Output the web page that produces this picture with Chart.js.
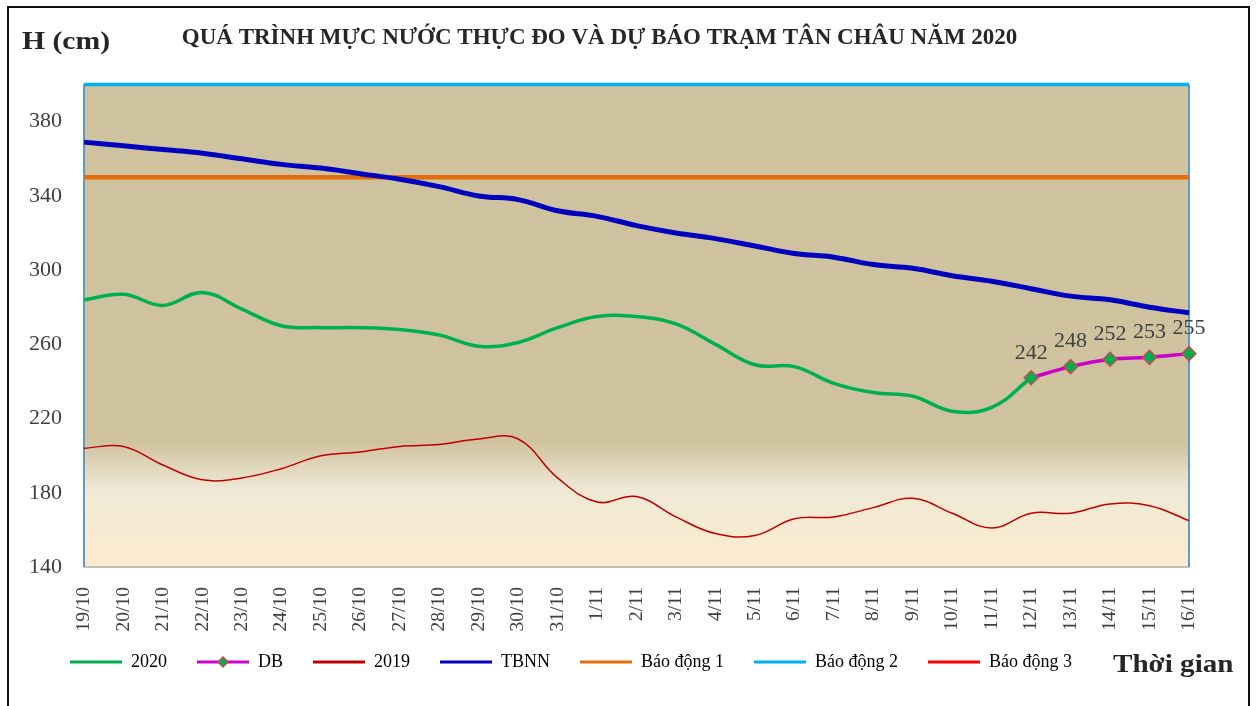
<!DOCTYPE html>
<html>
<head>
<meta charset="utf-8">
<script src="https://cdn.jsdelivr.net/npm/chart.js@4"></script>
<style>
  html, body { margin: 0; padding: 0; background: #fff; }
  canvas { display: block; }
</style>
</head>
<body>
<canvas id="waterChart" width="1259" height="706"></canvas>
<script>
const labels = ['19/10', '20/10', '21/10', '22/10', '23/10', '24/10', '25/10', '26/10', '27/10', '28/10',
  '29/10', '30/10', '31/10', '1/11', '2/11', '3/11', '4/11', '5/11', '6/11', '7/11', '8/11', '9/11',
  '10/11', '11/11', '12/11', '13/11', '14/11', '15/11', '16/11'];

const h2020 = [284, 287, 281, 288, 279, 270, 269, 269, 268, 265, 259, 261, 269, 275, 275, 271, 260, 249, 248,
  239, 234, 232, 224, 226, 242, null, null, null, null];
const dbForecast = [null, null, null, null, null, null, null, null, null, null, null, null, null, null, null,
  null, null, null, null, null, null, null, null, null, 242, 248, 252, 253, 255];
const h2019 = [204, 205, 195, 187, 188, 193, 200, 202, 205, 206, 209, 209, 188, 175, 178, 167, 158, 157, 166,
  167, 172, 177, 169, 161, 169, 169, 174, 173, 165];
const tbnn = [369, 367, 365, 363, 360, 357, 355, 352, 349, 345, 340, 338, 332, 329, 324, 320, 317, 313, 309,
  307, 303, 301, 297, 294, 290, 286, 284, 280, 277];
const alarm1 = [350, 350, 350, 350, 350, 350, 350, 350, 350, 350, 350, 350, 350, 350, 350, 350, 350, 350, 350,
  350, 350, 350, 350, 350, 350, 350, 350, 350, 350];
const alarm2 = [400, 400, 400, 400, 400, 400, 400, 400, 400, 400, 400, 400, 400, 400, 400, 400, 400, 400, 400,
  400, 400, 400, 400, 400, 400, 400, 400, 400, 400];
const alarm3 = [450, 450, 450, 450, 450, 450, 450, 450, 450, 450, 450, 450, 450, 450, 450, 450, 450, 450, 450,
  450, 450, 450, 450, 450, 450, 450, 450, 450, 450];
const yTicks = [140, 180, 220, 260, 300, 340, 380];

const serif = "'Liberation Serif', 'Times New Roman', serif";

function stretchedText(ctx, text, x, y, sx) {
  ctx.save();
  ctx.translate(x, y);
  ctx.scale(sx, 1);
  ctx.fillText(text, 0, 0);
  ctx.restore();
}

// plot background + frame + extra texts
const decor = {
  id: 'decor',
  afterLayout(chart) {
    // push the legend row to where the original sits
    const lg = chart.legend;
    lg.left = 40;
    lg.top = 623;
  },
  beforeDraw(chart) {
    const { ctx, chartArea: a } = chart;
    ctx.save();
    const g = ctx.createLinearGradient(0, a.top, 0, a.bottom);
    g.addColorStop(0, '#cfc29f');
    g.addColorStop(0.74, '#cfc29f');
    g.addColorStop(0.84, '#efe9d6');
    g.addColorStop(1, '#fcecce');
    ctx.fillStyle = g;
    ctx.fillRect(a.left, a.top, a.width, a.height);
    ctx.restore();
  },
  beforeDatasetsDraw(chart) {
    const { ctx, chartArea: a } = chart;
    ctx.save();
    ctx.lineWidth = 2;
    ctx.strokeStyle = '#bfbfbf';
    ctx.beginPath();
    ctx.moveTo(a.left, a.bottom); ctx.lineTo(a.right, a.bottom);
    ctx.stroke();
    ctx.strokeStyle = '#5b9bd5';
    ctx.beginPath();
    ctx.moveTo(a.left, a.top); ctx.lineTo(a.left, a.bottom);
    ctx.moveTo(a.right, a.top); ctx.lineTo(a.right, a.bottom);
    ctx.stroke();
    ctx.restore();
  },
  afterDatasetsDraw(chart) {
    const { ctx } = chart;
    const meta = chart.getDatasetMeta(1);
    ctx.save();
    ctx.font = '22px ' + serif;
    ctx.fillStyle = '#404040';
    ctx.textAlign = 'center';
    ctx.textBaseline = 'bottom';
    meta.data.forEach((pt, i) => {
      const v = dbForecast[i];
      if (v == null) return;
      ctx.fillText(String(v), pt.x, pt.y - 14);
    });
    ctx.restore();
  },
  afterDraw(chart) {
    const { ctx } = chart;
    ctx.save();
    ctx.strokeStyle = '#111';
    ctx.lineWidth = 2;
    ctx.beginPath();
    ctx.moveTo(8, 720); ctx.lineTo(8, 7); ctx.lineTo(1249, 7); ctx.lineTo(1249, 720);
    ctx.stroke();

    ctx.fillStyle = '#262626';
    ctx.textBaseline = 'alphabetic';
    ctx.font = 'bold 26px ' + serif;
    stretchedText(ctx, 'H (cm)', 22, 49, 1.14);
    stretchedText(ctx, 'Thời gian', 1113, 672, 1.12);

    // DB legend marker
    const hb = chart.legend.legendHitBoxes[1];
    if (hb) {
      const cx = hb.left + 26, cy = hb.top + hb.height / 2;
      ctx.fillStyle = '#00b050';
      ctx.strokeStyle = '#c0504d';
      ctx.lineWidth = 1.5;
      ctx.beginPath();
      ctx.moveTo(cx, cy - 5); ctx.lineTo(cx + 5, cy); ctx.lineTo(cx, cy + 5); ctx.lineTo(cx - 5, cy);
      ctx.closePath();
      ctx.fill(); ctx.stroke();
    }
    ctx.restore();
  }
};

function line(label, data, color, width, extra) {
  return Object.assign({
    label: label,
    data: data,
    borderColor: color,
    backgroundColor: color,
    borderWidth: width,
    pointRadius: 0,
    pointHoverRadius: 0,
    tension: 0.4,
    fill: false
  }, extra || {});
}

new Chart(document.getElementById('waterChart'), {
  type: 'line',
  data: {
    labels: labels,
    datasets: [
      line('2020', h2020, '#00b050', 3.5),
      line('DB', dbForecast, '#cc00cc', 3.5, {
        pointRadius: 7, pointStyle: 'rectRot', pointBackgroundColor: '#00b050',
        pointBorderColor: '#c0504d', pointBorderWidth: 1.5
      }),
      line('2019', h2019, '#c00000', 1.5),
      line('TBNN', tbnn, '#0000bf', 5),
      line('Báo động 1', alarm1, '#e46c0a', 4.5, { tension: 0 }),
      line('Báo động 2', alarm2, '#00b0f0', 3.5, { tension: 0, clip: 4 }),
      line('Báo động 3', alarm3, '#ff0000', 3.5, { tension: 0 })
    ]
  },
  options: {
    responsive: false,
    animation: false,
    devicePixelRatio: 1,
    layout: { padding: { left: 10, right: 70, top: 8, bottom: 6 } },
    scales: {
      x: {
        grid: { display: false, drawTicks: false },
        border: { display: false },
        ticks: {
          minRotation: 90, maxRotation: 90, autoSkip: false, padding: 20,
          color: '#404040', font: { family: serif, size: 19.5 }
        },
        afterFit(scale) { scale.height = 75; }
      },
      y: {
        min: 140, max: 400,
        grid: { display: false, drawTicks: false },
        border: { display: false },
        ticks: { stepSize: 40, padding: 22, color: '#404040', font: { family: serif, size: 22 } },
        afterBuildTicks(scale) { scale.ticks = yTicks.map(v => ({ value: v })); },
        afterFit(scale) { scale.width = 74; }
      }
    },
    plugins: {
      title: {
        display: true,
        text: 'QUÁ TRÌNH MỰC NƯỚC THỰC ĐO VÀ DỰ BÁO TRẠM TÂN CHÂU NĂM 2020',
        color: '#262626',
        font: { family: serif, size: 23, weight: 'bold' },
        padding: { top: 16, bottom: 33 }
      },
      legend: {
        position: 'bottom',
        align: 'start',
        labels: {
          boxWidth: 52, boxHeight: 3, padding: 30,
          color: '#404040', font: { family: serif, size: 18 },
          generateLabels(chart) {
            return chart.data.datasets.map((ds, i) => ({
              text: ds.label,
              fillStyle: ds.borderColor,
              strokeStyle: ds.borderColor,
              lineWidth: 0,
              hidden: false,
              datasetIndex: i
            }));
          }
        }
      },
      tooltip: { enabled: false }
    }
  },
  plugins: [decor]
});
</script>
</body>
</html>
